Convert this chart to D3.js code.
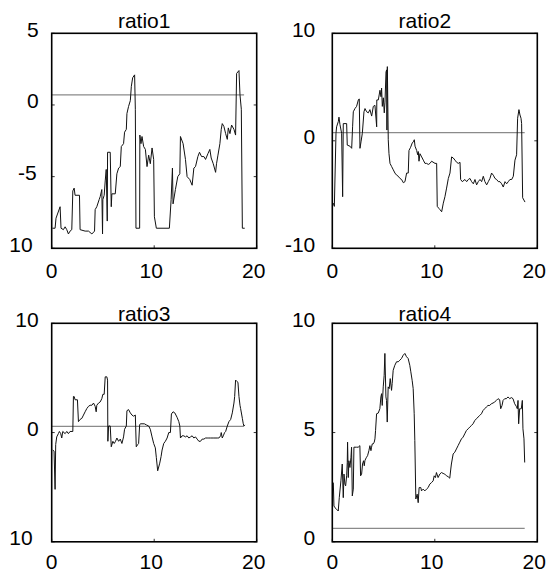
<!DOCTYPE html>
<html>
<head>
<meta charset="utf-8">
<script src="https://cdn.jsdelivr.net/npm/d3@7"></script>
<style>
  body { margin: 0; background: #fff; }
  svg { display: block; }
  text { font-family: "Liberation Sans", Arial, sans-serif; fill: #000; }
</style>
</head>
<body>
<div id="chart"></div>
<script>
// Series: [x, value]
var ratio1 = [
  [0.07,-8.6],[0.33,-8.6],[0.42,-7.9],[0.82,-7.1],[0.91,-8.6],[1.14,-8.7],[1.31,-8.5],[1.47,-8.7],
  [1.63,-9.0],[1.79,-8.8],[1.96,-8.7],[2.06,-6.0],[2.19,-5.8],[2.28,-6.3],[2.71,-6.3],[2.77,-8.7],
  [3.26,-8.8],[3.59,-8.8],[3.92,-9.0],[4.18,-8.8],[4.24,-7.3],[4.40,-7.1],[4.63,-6.6],[4.73,-6.4],
  [4.89,-5.9],[4.96,-9.0],[4.99,-6.6],[5.12,-6.3],[5.22,-5.3],[5.32,-4.5],[5.42,-8.1],[5.45,-3.3],
  [5.71,-3.3],[5.81,-7.1],[5.87,-6.2],[6.20,-6.2],[6.36,-4.8],[6.53,-4.4],[6.69,-4.3],[6.79,-2.9],
  [7.01,-2.7],[7.11,-1.9],[7.28,-1.7],[7.34,-0.6],[7.50,-0.1],[7.67,0.3],[7.77,1.3],[7.90,1.9],
  [8.09,2.1],[8.16,-0.3],[8.22,-8.6],[8.58,-8.6],[8.60,-2.1],[8.71,-2.7],[8.81,-2.2],[8.97,-2.9],
  [9.14,-3.1],[9.30,-4.3],[9.46,-3.5],[9.62,-4.1],[9.79,-3.0],[9.95,-3.8],[10.02,-7.8],[10.21,-8.6],
  [11.48,-8.6],[11.65,-6.6],[11.78,-4.4],[11.84,-6.9],[12.07,-5.9],[12.30,-5.0],[12.50,-4.8],[12.56,-2.2],
  [12.82,-2.7],[13.05,-3.8],[13.21,-5.0],[13.47,-5.2],[13.70,-5.6],[13.87,-4.4],[14.03,-4.3],[14.26,-3.6],
  [14.42,-3.3],[14.62,-3.6],[14.85,-3.6],[15.01,-3.8],[15.24,-3.4],[15.43,-3.1],[15.56,-3.7],[15.76,-4.1],
  [15.99,-4.7],[16.08,-4.1],[16.22,-3.5],[16.41,-2.7],[16.54,-1.7],[16.64,-1.3],[16.80,-1.5],[16.97,-2.0],
  [17.13,-2.4],[17.23,-1.6],[17.39,-2.0],[17.55,-1.4],[17.78,-1.7],[17.94,-2.1],[18.04,2.2],[18.27,2.4],
  [18.37,0.7],[18.50,-0.3],[18.60,-8.6],[18.83,-8.6]
];

var ratio2 = [
  [0.10,-5.8],[0.20,-6.1],[0.36,0.7],[0.42,1.3],[0.59,1.8],[0.65,2.2],[0.75,1.5],[0.91,0.7],
  [1.01,-5.2],[1.07,1.6],[1.24,1.6],[1.40,1.6],[1.46,-0.4],[1.72,-0.5],[1.89,-0.7],[1.98,1.3],
  [2.05,2.7],[2.21,3.0],[2.37,3.2],[2.54,3.8],[2.63,3.9],[2.70,-0.7],[2.80,-0.1],[2.93,0.7],
  [3.09,2.7],[3.19,3.0],[3.35,2.7],[3.51,2.6],[3.67,2.9],[3.84,2.3],[4.00,3.2],[4.16,3.3],
  [4.33,1.3],[4.34,3.8],[4.49,3.8],[4.65,4.7],[4.75,4.1],[4.81,4.9],[4.88,3.2],[4.98,4.0],
  [5.07,2.6],[5.14,3.6],[5.24,6.4],[5.30,6.6],[5.33,1.0],[5.37,6.9],[5.46,0.1],[5.53,-1.2],
  [5.63,-2.1],[5.79,-2.4],[5.95,-2.7],[6.11,-3.0],[6.28,-3.2],[6.44,-3.3],[6.60,-3.5],[6.76,-3.6],
  [6.93,-3.9],[7.09,-3.8],[7.25,-3.0],[7.41,-3.0],[7.48,-0.9],[7.64,-0.6],[7.80,-0.2],[7.90,-0.1],
  [8.00,0.1],[8.07,-0.5],[8.23,-0.9],[8.33,-1.3],[8.39,-1.0],[8.46,-1.9],[8.55,-1.2],[8.72,-1.5],
  [8.88,-1.8],[9.04,-2.1],[9.20,-2.1],[9.37,-2.2],[9.53,-2.1],[9.69,-1.9],[10.02,-2.1],[10.18,-2.1],
  [10.24,-6.1],[10.41,-6.3],[10.50,-6.4],[10.67,-6.6],[10.83,-5.8],[10.99,-5.2],[11.15,-4.4],[11.32,-3.5],
  [11.48,-3.0],[11.64,-1.5],[11.80,-1.6],[11.97,-1.8],[12.13,-2.0],[12.29,-2.1],[12.46,-2.0],[12.52,-3.6],
  [12.68,-3.8],[12.94,-3.6],[13.11,-3.8],[13.27,-3.6],[13.43,-3.5],[13.59,-3.8],[13.76,-4.0],[13.92,-3.6],
  [14.08,-4.1],[14.24,-3.8],[14.41,-3.6],[14.57,-3.8],[14.73,-3.3],[14.89,-3.8],[15.06,-4.1],[15.22,-3.8],
  [15.38,-3.5],[15.54,-3.0],[15.71,-3.2],[15.87,-3.5],[16.03,-3.6],[16.20,-3.8],[16.36,-3.8],[16.52,-4.0],
  [16.68,-4.3],[16.85,-3.8],[17.01,-4.0],[17.17,-3.8],[17.33,-3.6],[17.50,-3.6],[17.66,-3.3],[17.82,-1.8],
  [17.98,-1.3],[18.08,2.1],[18.21,2.9],[18.31,2.4],[18.41,2.1],[18.47,1.6],[18.57,-5.3],[18.80,-5.7]
];

var ratio3 = [
  [0.10,-1.6],[0.23,-1.7],[0.33,-5.2],[0.39,-1.1],[0.49,-0.4],[0.65,-0.1],[0.75,0.1],[0.88,-0.1],
  [0.98,-0.5],[1.08,0.1],[1.31,-0.1],[1.47,0.1],[1.63,-0.1],[1.79,0.1],[2.06,0.1],[2.12,3.3],
  [2.19,3.3],[2.28,3.0],[2.51,3.0],[2.61,1.0],[2.77,1.2],[2.94,1.3],[3.10,1.6],[3.26,1.9],
  [3.43,2.2],[3.59,2.4],[3.75,2.5],[3.92,2.5],[4.08,2.7],[4.24,2.4],[4.34,1.9],[4.40,2.5],
  [4.57,2.7],[4.73,2.8],[4.89,3.1],[4.99,3.5],[5.12,3.5],[5.22,5.1],[5.38,5.1],[5.45,4.8],
  [5.48,-0.8],[5.55,0.6],[5.71,0.6],[5.81,-1.3],[5.97,-0.8],[6.10,-1.0],[6.23,-0.8],[6.36,-0.5],
  [6.53,-0.8],[6.69,-0.6],[6.85,-1.0],[7.01,-0.4],[7.11,0.3],[7.28,0.6],[7.34,2.0],[7.50,2.1],
  [7.67,1.8],[7.83,1.6],[7.99,1.5],[8.16,1.6],[8.25,-1.3],[8.39,-1.1],[8.48,-1.0],[8.58,0.7],
  [8.65,0.8],[8.81,0.8],[9.04,0.8],[9.23,0.7],[9.46,0.6],[9.62,0.3],[9.79,-0.4],[9.95,-1.0],
  [10.11,-1.4],[10.21,-2.3],[10.34,-3.5],[10.54,-2.8],[10.67,-2.2],[10.77,-1.6],[10.93,-1.0],[11.09,-0.8],
  [11.26,-0.5],[11.42,0.0],[11.58,0.0],[11.68,1.7],[11.84,1.9],[12.01,1.8],[12.23,1.4],[12.40,1.0],
  [12.50,0.6],[12.56,-0.5],[12.72,-0.3],[12.89,-0.3],[13.05,-0.4],[13.21,-0.3],[13.38,-0.5],[13.54,-0.4],
  [13.70,-0.3],[13.87,-0.5],[14.03,-0.4],[14.19,-0.6],[14.36,-0.8],[14.52,-0.8],[14.68,-0.6],[14.85,-0.6],
  [15.01,-0.5],[15.17,-0.5],[15.33,-0.5],[15.50,-0.5],[15.82,-0.5],[16.15,-0.5],[16.31,-0.5],[16.48,-0.3],
  [16.54,0.0],[16.64,-0.5],[16.74,-0.3],[16.87,0.0],[16.97,0.1],[17.13,0.6],[17.29,1.0],[17.46,1.2],
  [17.62,1.8],[17.78,2.7],[17.85,3.3],[17.94,4.8],[18.04,4.7],[18.17,4.6],[18.27,3.3],[18.37,2.5],
  [18.43,2.2],[18.60,1.3],[18.69,0.8],[18.76,0.6],[18.83,0.7]
];

var ratio4 = [
  [0.10,2.71],[0.16,1.64],[0.26,1.56],[0.42,1.49],[0.58,1.41],[0.68,2.02],[0.84,2.79],[0.97,3.56],
  [1.07,2.02],[1.14,3.10],[1.23,2.64],[1.30,2.56],[1.40,3.02],[1.46,3.63],[1.49,4.56],[1.56,2.94],
  [1.62,3.71],[1.72,3.40],[1.82,3.87],[1.88,4.33],[1.95,2.10],[2.05,2.41],[2.11,4.33],[2.37,4.33],
  [2.53,4.33],[2.69,4.40],[2.76,3.02],[2.86,3.10],[2.95,3.56],[3.05,3.71],[3.12,3.48],[3.18,3.71],
  [3.25,3.79],[3.34,3.87],[3.44,3.94],[3.57,4.17],[3.67,4.40],[3.77,4.17],[3.83,4.33],[3.90,4.48],
  [3.99,4.48],[4.09,4.56],[4.16,4.71],[4.22,5.09],[4.32,5.86],[4.48,5.89],[4.64,6.09],[4.74,6.63],
  [4.81,6.78],[4.87,6.24],[4.97,7.09],[5.06,7.62],[5.13,8.62],[5.23,6.63],[5.29,6.47],[5.36,5.48],
  [5.45,7.09],[5.55,7.01],[5.65,7.47],[5.78,6.93],[5.84,7.24],[5.94,7.85],[6.10,8.08],[6.27,8.24],
  [6.43,8.24],[6.59,8.31],[6.75,8.39],[6.92,8.54],[7.08,8.62],[7.24,8.47],[7.40,8.39],[7.56,8.08],
  [7.66,7.78],[7.79,7.39],[7.89,7.01],[7.99,5.86],[8.05,4.63],[8.15,1.96],[8.28,2.18],[8.38,1.79],
  [8.47,2.48],[8.64,2.48],[8.70,2.33],[8.86,2.41],[9.03,2.33],[9.19,2.41],[9.35,2.48],[9.51,2.64],
  [9.68,2.71],[9.84,2.79],[9.94,3.02],[10.06,2.94],[10.16,3.17],[10.32,2.94],[10.49,3.10],[10.65,3.17],
  [10.81,3.13],[10.97,3.10],[11.14,3.02],[11.30,2.98],[11.46,2.91],[11.56,3.33],[11.62,3.56],[11.79,4.02],
  [11.95,4.10],[12.11,4.25],[12.27,4.40],[12.44,4.56],[12.60,4.71],[12.76,4.79],[12.92,4.94],[13.08,5.09],
  [13.25,5.17],[13.41,5.25],[13.57,5.32],[13.73,5.40],[13.90,5.55],[14.06,5.63],[14.22,5.71],[14.38,5.78],
  [14.55,5.86],[14.71,6.01],[14.87,6.09],[15.03,6.17],[15.19,6.24],[15.36,6.24],[15.52,6.32],[15.68,6.35],
  [15.84,6.40],[16.01,6.47],[16.17,6.55],[16.33,6.50],[16.43,6.09],[16.56,6.24],[16.66,6.47],[16.82,6.55],
  [16.98,6.55],[17.14,6.63],[17.31,6.55],[17.47,6.60],[17.63,6.55],[17.79,6.32],[17.95,6.20],[18.05,6.09],
  [18.12,6.47],[18.18,5.40],[18.28,6.09],[18.38,6.09],[18.44,6.09],[18.54,6.47],[18.60,5.17],[18.70,4.71],
  [18.77,3.63]
];

var series = [ratio1, ratio2, ratio3, ratio4];
var titles = ['ratio1', 'ratio2', 'ratio3', 'ratio4'];
var yDomains = [[-10, 5], [-10, 10], [-10, 10], [0, 10]];
var yTicks = [[5, 0, -5, -10], [10, 0, -10], [10, 0, -10], [10, 5, 0]];
var yTickLabels = [['5', '0', '-5', '10'], ['10', '0', '-10'], ['10', '0', '10'], ['10', '5', '0']];
var xDomain = [0, 20];
var xTicks = [0, 10, 20];
var refLevels = [0.7, 0.76, 0.56, 0.61];
var refEnd = 18.77;

var width = 549,
    height = 574;

// frame boxes for the 2x2 grid
var colLeft = [51.7, 332.3],
    colWidth = 205,
    rowTop = [33.3, 323.3],
    rowHeight = [215, 218.5];

var svg = d3.select('#chart').append('svg')
    .attr('width', width)
    .attr('height', height);

series.forEach(function(data, i) {

  var col = i % 2,
      row = Math.floor(i / 2),
      left = colLeft[col],
      top = rowTop[row],
      w = colWidth,
      h = rowHeight[row];

  var x = d3.scaleLinear().domain(xDomain).range([left, left + w]);
  var y = d3.scaleLinear().domain(yDomains[i]).range([top + h, top]);

  var g = svg.append('g');

  // reference level
  g.append('line')
    .attr('x1', x(0))
    .attr('x2', x(refEnd))
    .attr('y1', y(refLevels[i]))
    .attr('y2', y(refLevels[i]))
    .attr('stroke', '#8a8a8a')
    .attr('stroke-width', 1.2);

  // series
  var line = d3.line()
    .x(function(d) { return x(d[0]); })
    .y(function(d) { return y(d[1]); });

  g.append('path')
    .datum(data)
    .attr('d', line)
    .attr('fill', 'none')
    .attr('stroke', '#111')
    .attr('stroke-width', 1)
    .attr('stroke-linejoin', 'round');

  // small inward ticks
  var tickLen = 3;
  g.selectAll('.ytl').data(yTicks[i]).enter().append('line')
    .attr('x1', left).attr('x2', left + tickLen)
    .attr('y1', function(d) { return y(d); }).attr('y2', function(d) { return y(d); })
    .attr('stroke', '#333').attr('stroke-width', 1);
  g.selectAll('.ytr').data(yTicks[i]).enter().append('line')
    .attr('x1', left + w).attr('x2', left + w - tickLen)
    .attr('y1', function(d) { return y(d); }).attr('y2', function(d) { return y(d); })
    .attr('stroke', '#333').attr('stroke-width', 1);
  g.selectAll('.xt').data(xTicks).enter().append('line')
    .attr('x1', function(d) { return x(d); }).attr('x2', function(d) { return x(d); })
    .attr('y1', top + h).attr('y2', top + h - tickLen)
    .attr('stroke', '#333').attr('stroke-width', 1);

  // frame
  g.append('rect')
    .attr('x', left)
    .attr('y', top)
    .attr('width', w)
    .attr('height', h)
    .attr('fill', 'none')
    .attr('stroke', '#000')
    .attr('stroke-width', 1.6);

  // y labels
  g.selectAll('.ylab').data(yTicks[i]).enter().append('text')
    .attr('x', function(d) {
      var off = col === 0 ? (d < 0 ? (d <= -10 ? 19 : 15) : 13) : 17;
      return left - off;
    })
    .attr('y', function(d) { return y(d) + 3.5; })
    .attr('text-anchor', 'end')
    .style('font-size', '21px')
    .text(function(d, j) { return yTickLabels[i][j]; });

  // x labels (kept inside the picture at the bottom row)
  g.selectAll('.xlab').data(xTicks).enter().append('text')
    .attr('x', function(d) { return x(d) - (d > 0 ? 3 : 0); })
    .attr('y', Math.min(top + h + 30, height - 5))
    .attr('text-anchor', 'middle')
    .style('font-size', '21px')
    .text(function(d) { return d; });

  // title
  g.append('text')
    .attr('x', left + w / 2 - 10)
    .attr('y', top - (row === 0 ? 5 : 2))
    .attr('text-anchor', 'middle')
    .style('font-size', '21px')
    .text(titles[i]);

});
</script>
</body>
</html>
